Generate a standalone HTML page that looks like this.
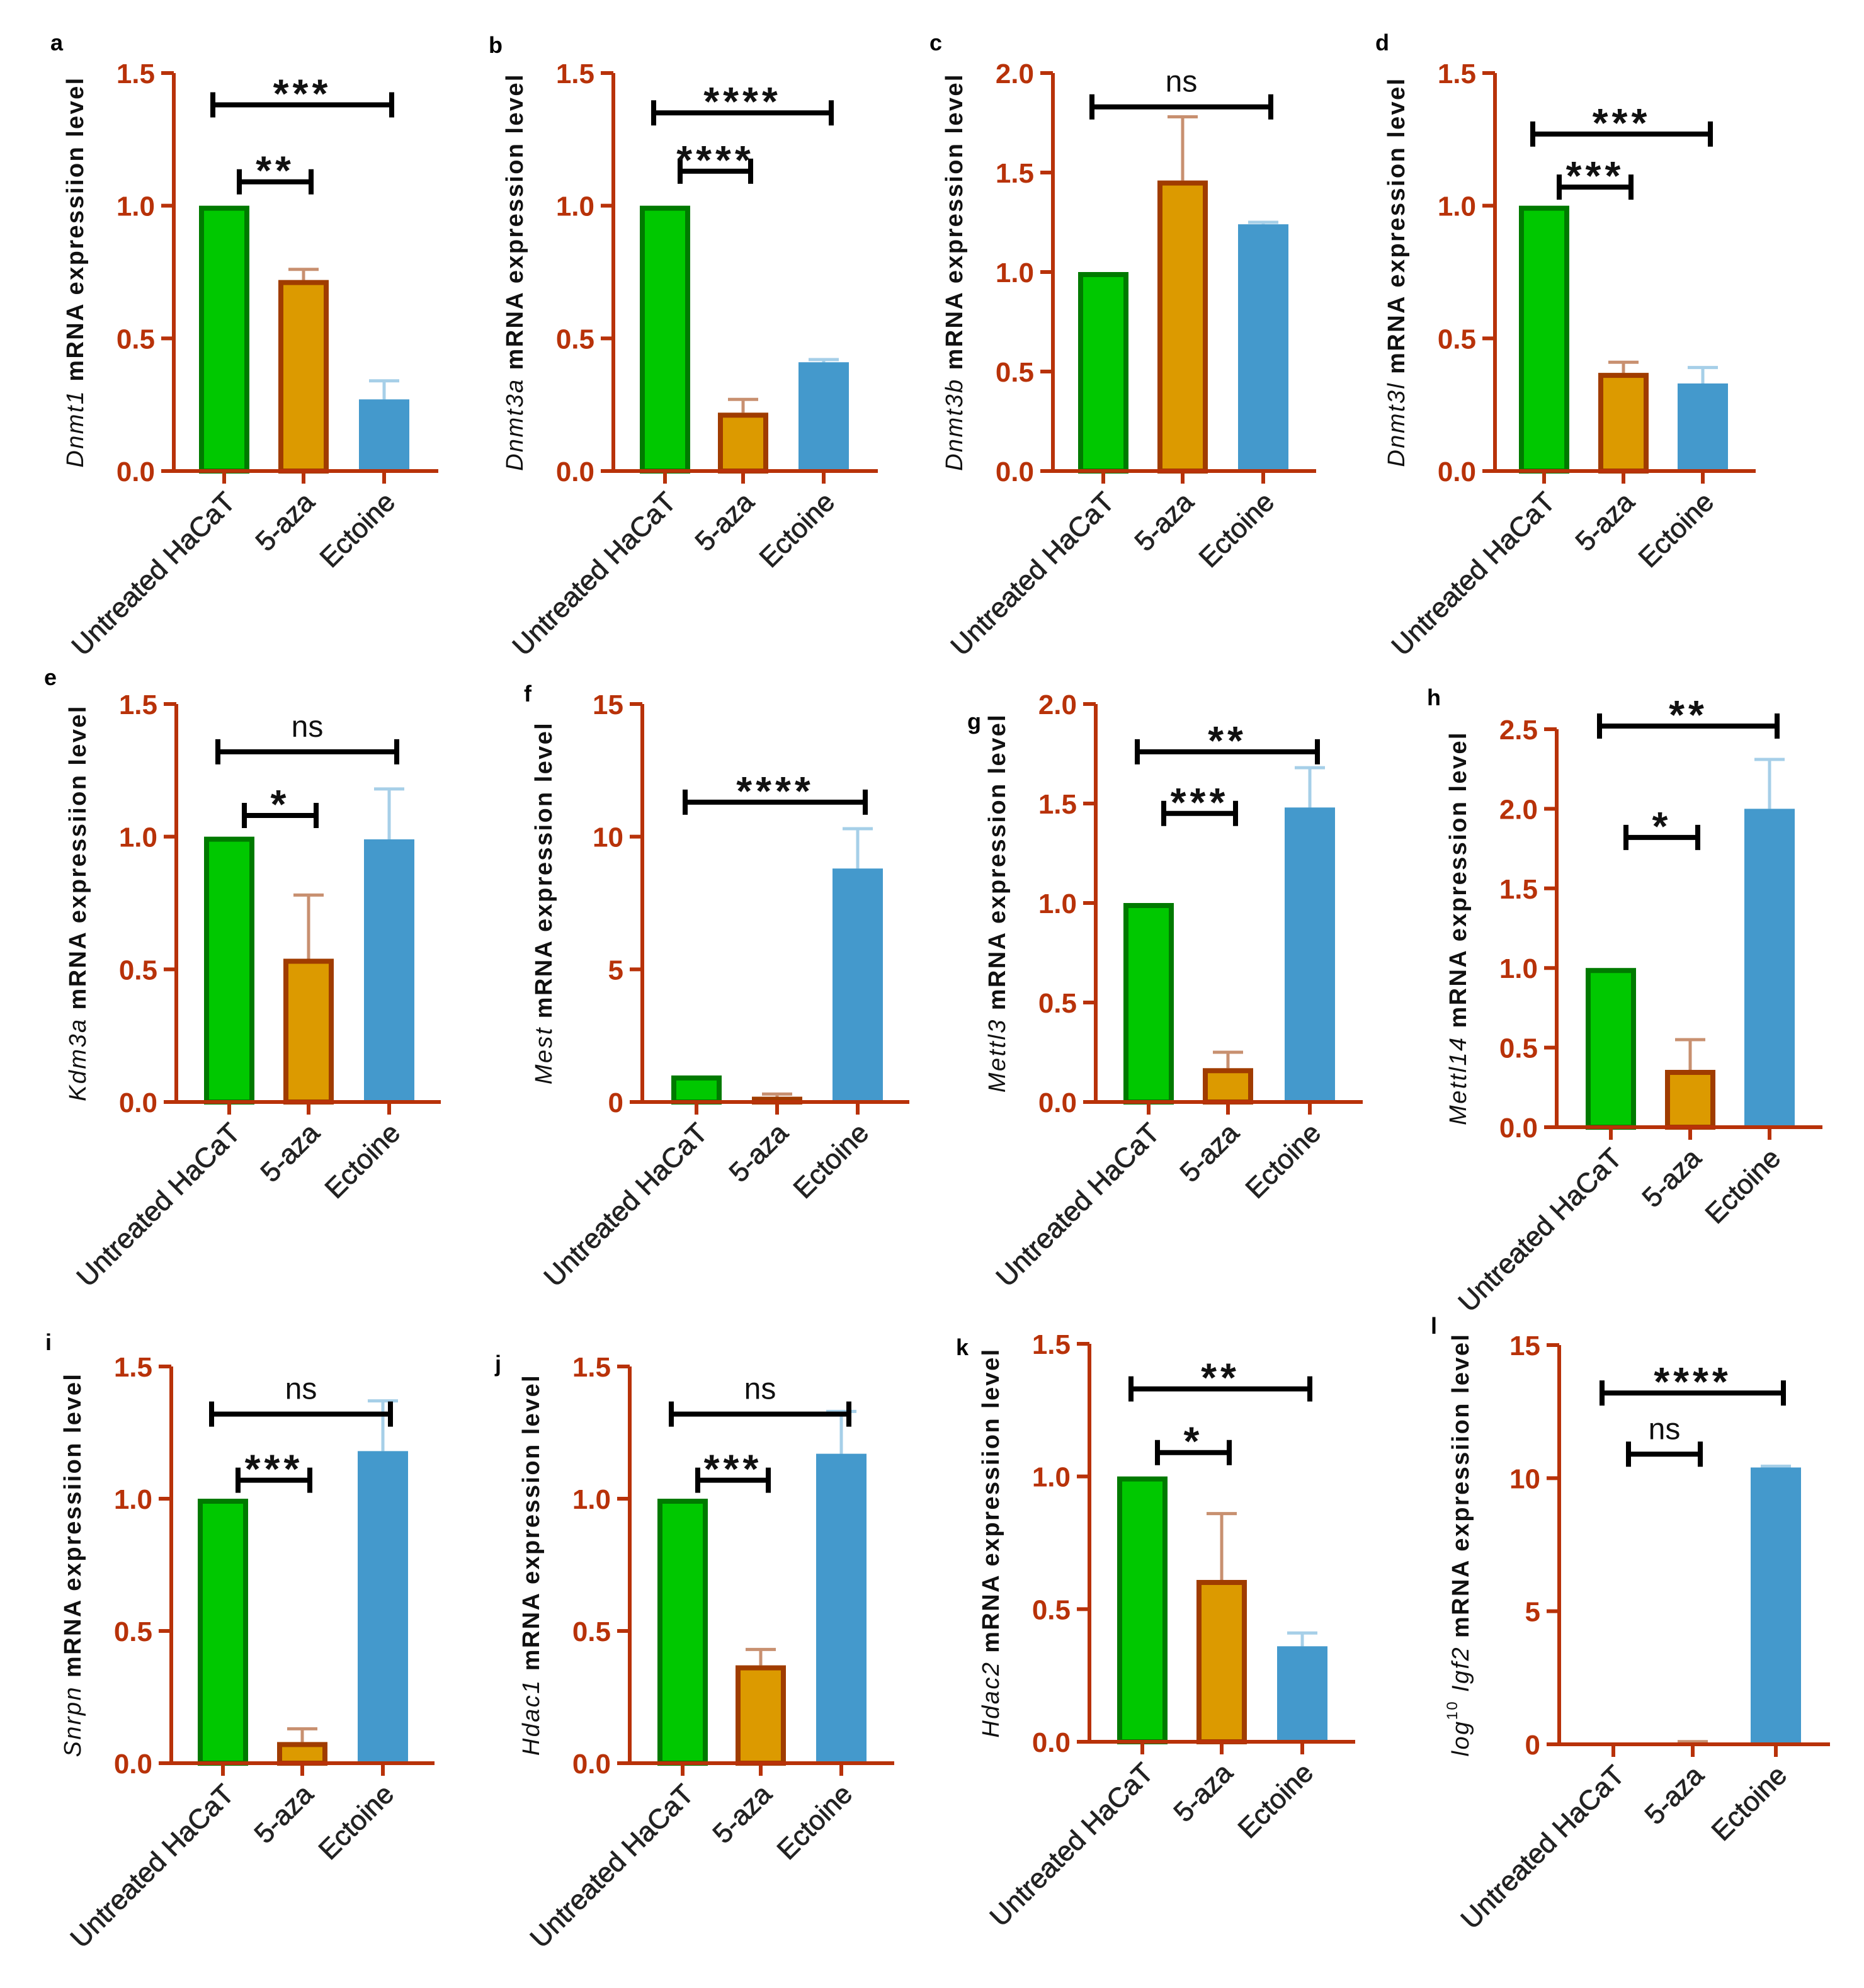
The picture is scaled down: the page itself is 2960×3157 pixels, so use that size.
<!DOCTYPE html>
<html><head><meta charset="utf-8"><style>
html,body{margin:0;padding:0;background:#fff}
svg{display:block}
text{font-family:"Liberation Sans",sans-serif}
</style></head><body>
<svg id="fig" width="2960" height="3157" viewBox="0 0 1480 1578.5" xmlns="http://www.w3.org/2000/svg"></svg>
<script>
const categories = ["Untreated HaCaT","5-aza","Ectoine"];
const valuesA=[1,0.72,0.27], errorsA=[0,0.04,0.07], ticksA=["0.0","0.5","1.0","1.5"];
const valuesB=[1,0.22,0.41], errorsB=[0,0.05,0.01], ticksB=["0.0","0.5","1.0","1.5"];
const valuesC=[1,1.46,1.24], errorsC=[0,0.32,0.01], ticksC=["0.0","0.5","1.0","1.5","2.0"];
const valuesD=[1,0.37,0.33], errorsD=[0,0.04,0.06], ticksD=["0.0","0.5","1.0","1.5"];
const valuesE=[1,0.54,0.99], errorsE=[0,0.24,0.19], ticksE=["0.0","0.5","1.0","1.5"];
const valuesF=[1,0.2,8.8], errorsF=[0,0.1,1.5], ticksF=["0","5","10","15"];
const valuesG=[1,0.17,1.48], errorsG=[0,0.08,0.2], ticksG=["0.0","0.5","1.0","1.5","2.0"];
const valuesH=[1,0.36,2.0], errorsH=[0,0.19,0.31], ticksH=["0.0","0.5","1.0","1.5","2.0","2.5"];
const valuesI=[1,0.08,1.18], errorsI=[0,0.05,0.19], ticksI=["0.0","0.5","1.0","1.5"];
const valuesJ=[1,0.37,1.17], errorsJ=[0,0.06,0.16], ticksJ=["0.0","0.5","1.0","1.5"];
const valuesK=[1,0.61,0.36], errorsK=[0,0.25,0.05], ticksK=["0.0","0.5","1.0","1.5"];
const valuesL=[0,0.05,10.4], errorsL=[0,0.05,0.05], ticksL=["0","5","10","15"];
// significance: [from, to, height, label]
const sigA=[[0,1,1.09,"**"],[0,2,1.38,"***"]];
const sigB=[[0,1,1.13,"****"],[0,2,1.35,"****"]];
const sigC=[[0,2,1.83,"ns"]];
const sigD=[[0,1,1.07,"***"],[0,2,1.27,"***"]];
const sigE=[[0,1,1.08,"*"],[0,2,1.32,"ns"]];
const sigF=[[0,2,11.3,"****"]];
const sigG=[[0,1,1.45,"***"],[0,2,1.76,"**"]];
const sigH=[[0,1,1.82,"*"],[0,2,2.52,"**"]];
const sigI=[[0,1,1.07,"***"],[0,2,1.32,"ns"]];
const sigJ=[[0,1,1.07,"***"],[0,2,1.32,"ns"]];
const sigK=[[0,1,1.09,"*"],[0,2,1.33,"**"]];
const sigL=[[0,1,10.9,"ns"],[0,2,13.2,"****"]];

const panels=[
 {id:"a",gene:"Dnmt1",w:"expressiion",v:valuesA,e:errorsA,t:ticksA,s:sigA,max:1.5,ax:138,y0:374,yt:58,bx:[178,241,305],xr:348,lx:40,ly:40},
 {id:"b",gene:"Dnmt3a",w:"expression",v:valuesB,e:errorsB,t:ticksB,s:sigB,max:1.5,ax:487,y0:374,yt:58,bx:[528,590,654],xr:697,lx:388,ly:42},
 {id:"c",gene:"Dnmt3b",w:"expression",v:valuesC,e:errorsC,t:ticksC,s:sigC,max:2.0,ax:836,y0:374,yt:58,bx:[876,939,1003],xr:1045,lx:738,ly:40},
 {id:"d",gene:"Dnmt3l",w:"expression",v:valuesD,e:errorsD,t:ticksD,s:sigD,max:1.5,ax:1187,y0:374,yt:58,bx:[1226,1289,1352],xr:1394,lx:1092,ly:40},
 {id:"e",gene:"Kdm3a",w:"expressiion",v:valuesE,e:errorsE,t:ticksE,s:sigE,max:1.5,ax:140,y0:875,yt:559,bx:[182,245,309],xr:350,lx:35,ly:544},
 {id:"f",gene:"Mest",w:"expression",v:valuesF,e:errorsF,t:ticksF,s:sigF,max:15,ax:510,y0:875,yt:559,bx:[553,617,681],xr:722,lx:416,ly:557},
 {id:"g",gene:"Mettl3",w:"expression",v:valuesG,e:errorsG,t:ticksG,s:sigG,max:2.0,ax:870,y0:875,yt:559,bx:[912,975,1040],xr:1082,lx:768,ly:579},
 {id:"h",gene:"Mettl14",w:"expression",v:valuesH,e:errorsH,t:ticksH,s:sigH,max:2.5,ax:1236,y0:895,yt:579,bx:[1279,1342,1405],xr:1447,lx:1133,ly:560},
 {id:"i",gene:"Snrpn",w:"expressiion",v:valuesI,e:errorsI,t:ticksI,s:sigI,max:1.5,ax:136,y0:1400,yt:1085,bx:[177,240,304],xr:345,lx:36,ly:1072},
 {id:"j",gene:"Hdac1",w:"expression",v:valuesJ,e:errorsJ,t:ticksJ,s:sigJ,max:1.5,ax:500,y0:1400,yt:1085,bx:[542,604,668],xr:710,lx:393,ly:1089},
 {id:"k",gene:"Hdac2",w:"expressiion",v:valuesK,e:errorsK,t:ticksK,s:sigK,max:1.5,ax:865,y0:1383,yt:1067,bx:[907,970,1034],xr:1076,lx:759,ly:1076},
 {id:"l",gene:"Igf2",w:"expressiion",v:valuesL,e:errorsL,t:ticksL,s:sigL,max:15,ax:1238,y0:1385,yt:1068,bx:[1281,1344,1410],xr:1453,lx:1136,ly:1059,log:true}
];
const NS="http://www.w3.org/2000/svg";
const svg=document.getElementById("fig");
function mk(tag,attrs,parent,txt){const el=document.createElementNS(NS,tag);for(const k in attrs)el.setAttribute(k,attrs[k]);if(txt!==undefined)el.textContent=txt;parent.appendChild(el);return el;}
const AX="#b83209", fills=["#00c800","#dc9a00","#4499cc"], strokes=["#007a00","#a03c00","none"], errc=["#007a00","#c89070","#a6cfe8"];
panels.forEach(p=>{
 const g=mk("g",{},svg);
 
 
 const y=v=>p.y0-(v/p.max)*(p.y0-p.yt);
 const lab=mk("text",{x:p.lx,y:p.ly,"font-size":18,"font-weight":"bold"},g,p.id);
 
 
 p.v.forEach((v,i)=>{
  const cx=p.bx[i], w=40, top=y(v);
  if(p.e[i]>0||i>0){
   const et=y(v+p.e[i]);
   const eb=mk("path",{d:`M${cx} ${top} V${et} M${cx-12} ${et} H${cx+12}`,stroke:errc[i],"stroke-width":2.5,fill:"none"},g);
   
   
  }
  if(v>0){
   const sw=strokes[i]==="none"?0:4;
   const r=mk("rect",{x:cx-w/2+sw/2,y:top+sw/2,width:w-sw,height:Math.max(0,p.y0-top-sw/2),fill:fills[i],stroke:strokes[i],"stroke-width":sw},g);
   
   
  }
 });
 const ax=mk("path",{d:`M${p.ax} ${p.yt} V${p.y0} H${p.xr}`,stroke:AX,"stroke-width":3,fill:"none"},g);
 
 
 p.t.forEach((t,i)=>{
  const val=i*p.max/(p.t.length-1), ty=y(val);
  mk("line",{x1:p.ax-10,x2:p.ax,y1:ty,y2:ty,stroke:AX,"stroke-width":3},g);
  const tl=mk("text",{x:p.ax-15,y:ty+8,"text-anchor":"end","font-size":22,"font-weight":"bold",fill:AX},g,t);
  
  
 });
 categories.forEach((c,i)=>{
  const cx=p.bx[i];
  mk("line",{x1:cx,x2:cx,y1:p.y0,y2:p.y0+10,stroke:AX,"stroke-width":3},g);
  const tx=cx+10, ty=p.y0+26;
  const xl=mk("text",{x:tx,y:ty,"text-anchor":"end","font-size":22,fill:"#222",stroke:"#222","stroke-width":0.4,transform:`rotate(-45 ${tx} ${ty})`},g,c);
  
  
 });
 const tx=p.ax-72, ty=(p.y0+p.yt)/2;
 const yt=mk("text",{x:tx,y:ty,"text-anchor":"middle","font-size":19,"font-weight":"bold",fill:"#111",transform:`rotate(-90 ${tx} ${ty})`,"letter-spacing":"1.2"},g);
 
 
 if(p.log){
  mk("tspan",{"font-style":"italic","font-weight":"normal"},yt,"log");
  mk("tspan",{"font-size":12,dy:-9,"font-weight":"normal"},yt,"10");
  mk("tspan",{dy:9},yt," ");
 }
 mk("tspan",{"font-style":"italic","font-weight":"normal"},yt,p.gene);
 mk("tspan",{},yt," mRNA "+p.w+" level");
 p.s.forEach(s=>{
  const by=y(s[2]);
  const x1=p.bx[s[0]]+(s[1]-s[0]===1?12:-9), x2=p.bx[s[1]]+6;
  const br=mk("path",{d:`M${x1} ${by-10} V${by+10} M${x1} ${by} H${x2} M${x2} ${by-10} V${by+10}`,stroke:"#000","stroke-width":4,fill:"none"},g);
  
  
  const ns=s[3]==="ns";
  const st=mk("text",{x:(x1+x2)/2,y:ns?by-12:by+2,"text-anchor":"middle","font-size":ns?24:32,"font-weight":ns?"normal":"bold","letter-spacing":ns?0:3,fill:"#111"},g,s[3]);
  
  
 });
});
</script>
</body></html>
